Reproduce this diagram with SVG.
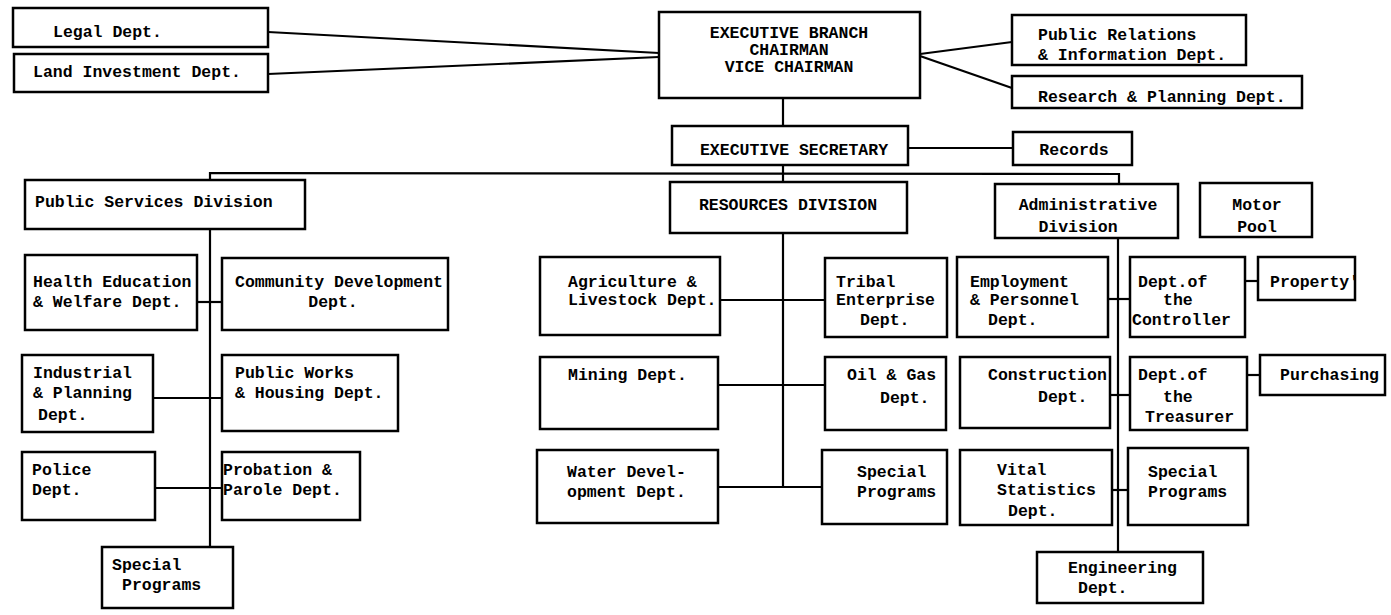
<svg xmlns="http://www.w3.org/2000/svg" width="1391" height="615" viewBox="0 0 1391 615">
<style>
  .box { fill: #fff; stroke: #000; stroke-width: 2.5; }
  .ln { fill: none; stroke: #000; stroke-width: 2.2; }
  text { font-family: "Liberation Mono", "DejaVu Sans Mono", monospace; font-size: 16.5px; font-weight: bold; fill: #000; }
  .m { text-anchor: middle; }
</style>
<rect width="1391" height="615" fill="#fff"/>
<g id="connectors">
  <line class="ln" x1="268" y1="32" x2="659" y2="53"/>
  <line class="ln" x1="268" y1="74" x2="659" y2="57"/>
  <line class="ln" x1="920" y1="54" x2="1012" y2="42"/>
  <line class="ln" x1="920" y1="56" x2="1012" y2="88"/>
  <line class="ln" x1="783" y1="98" x2="783" y2="126"/>
  <line class="ln" x1="908" y1="148" x2="1013" y2="148"/>
  <line class="ln" x1="783" y1="165" x2="783" y2="182"/>
  <polyline class="ln" points="210,180 210,173 1119,174 1119,184"/>
  <line class="ln" x1="210" y1="229" x2="210" y2="547"/>
  <line class="ln" x1="197" y1="302" x2="222" y2="302"/>
  <line class="ln" x1="153" y1="398" x2="222" y2="398"/>
  <line class="ln" x1="155" y1="488" x2="222" y2="488"/>
  <line class="ln" x1="783" y1="233" x2="783" y2="487"/>
  <line class="ln" x1="720" y1="300" x2="825" y2="300"/>
  <line class="ln" x1="718" y1="385" x2="825" y2="385"/>
  <line class="ln" x1="718" y1="487" x2="822" y2="487"/>
  <line class="ln" x1="1118" y1="238" x2="1118" y2="553"/>
  <line class="ln" x1="1108" y1="299" x2="1130" y2="299"/>
  <line class="ln" x1="1245" y1="281" x2="1258" y2="281"/>
  <line class="ln" x1="1110" y1="395" x2="1130" y2="395"/>
  <line class="ln" x1="1247" y1="375" x2="1260" y2="375"/>
  <line class="ln" x1="1112" y1="490" x2="1128" y2="490"/>
</g>
<g id="legal"><rect class="box" x="13" y="8" width="255" height="39"/><text x="53" y="37">Legal Dept.</text></g>
<g id="land"><rect class="box" x="14" y="54" width="254" height="38"/><text x="33" y="77">Land Investment Dept.</text></g>
<g id="exec"><rect class="box" x="659" y="12" width="261" height="86"/>
  <text class="m" x="789" y="38">EXECUTIVE BRANCH</text>
  <text class="m" x="789" y="55">CHAIRMAN</text>
  <text class="m" x="789" y="72">VICE CHAIRMAN</text></g>
<g id="pr"><rect class="box" x="1012" y="15" width="234" height="50"/>
  <text x="1038" y="40">Public Relations</text>
  <text x="1038" y="60">&amp; Information Dept.</text></g>
<g id="research"><rect class="box" x="1012" y="76" width="290" height="32"/>
  <text x="1038" y="102">Research &amp; Planning Dept.</text></g>
<g id="secretary"><rect class="box" x="672" y="126" width="236" height="39"/>
  <text class="m" x="794" y="155">EXECUTIVE SECRETARY</text></g>
<g id="records"><rect class="box" x="1013" y="132" width="119" height="33"/>
  <text class="m" x="1074" y="155">Records</text></g>
<g id="psd"><rect class="box" x="25" y="180" width="280" height="49"/>
  <text x="35" y="207">Public Services Division</text></g>
<g id="resdiv"><rect class="box" x="670" y="182" width="237" height="51"/>
  <text class="m" x="788" y="210">RESOURCES DIVISION</text></g>
<g id="admdiv"><rect class="box" x="995" y="184" width="183" height="54"/>
  <text class="m" x="1088" y="210">Administrative</text>
  <text class="m" x="1078" y="232">Division</text></g>
<g id="motor"><rect class="box" x="1200" y="183" width="112" height="54"/>
  <text class="m" x="1257" y="210">Motor</text>
  <text class="m" x="1257" y="232">Pool</text></g>
<g id="health"><rect class="box" x="25" y="255" width="172" height="75"/>
  <text x="33" y="287">Health Education</text>
  <text x="33" y="307">&amp; Welfare Dept.</text></g>
<g id="community"><rect class="box" x="222" y="258" width="226" height="72"/>
  <text x="235" y="287">Community Development</text>
  <text class="m" x="333" y="307">Dept.</text></g>
<g id="industrial"><rect class="box" x="22" y="355" width="131" height="77"/>
  <text x="33" y="378">Industrial</text>
  <text x="33" y="398">&amp; Planning</text>
  <text x="38" y="420">Dept.</text></g>
<g id="publicworks"><rect class="box" x="222" y="355" width="176" height="76"/>
  <text x="235" y="378">Public Works</text>
  <text x="235" y="398">&amp; Housing Dept.</text></g>
<g id="police"><rect class="box" x="22" y="452" width="133" height="68"/>
  <text x="32" y="475">Police</text>
  <text x="32" y="495">Dept.</text></g>
<g id="probation"><rect class="box" x="222" y="452" width="138" height="68"/>
  <text x="223" y="475">Probation &amp;</text>
  <text x="223" y="495">Parole Dept.</text></g>
<g id="ps-special"><rect class="box" x="102" y="547" width="131" height="61"/>
  <text x="112" y="570">Special</text>
  <text x="122" y="590">Programs</text></g>
<g id="agriculture"><rect class="box" x="540" y="257" width="180" height="78"/>
  <text x="568" y="287">Agriculture &amp;</text>
  <text x="568" y="305">Livestock Dept.</text></g>
<g id="tribal"><rect class="box" x="825" y="258" width="122" height="79"/>
  <text x="836" y="287">Tribal</text>
  <text x="836" y="305">Enterprise</text>
  <text x="860" y="325">Dept.</text></g>
<g id="mining"><rect class="box" x="540" y="357" width="178" height="72"/>
  <text x="568" y="380">Mining Dept.</text></g>
<g id="oilgas"><rect class="box" x="825" y="357" width="121" height="73"/>
  <text x="847" y="380">Oil &amp; Gas</text>
  <text x="880" y="403">Dept.</text></g>
<g id="water"><rect class="box" x="537" y="450" width="181" height="73"/>
  <text x="567" y="477">Water Devel-</text>
  <text x="567" y="497">opment Dept.</text></g>
<g id="res-special"><rect class="box" x="822" y="450" width="125" height="74"/>
  <text x="857" y="477">Special</text>
  <text x="857" y="497">Programs</text></g>
<g id="employment"><rect class="box" x="957" y="257" width="151" height="80"/>
  <text x="970" y="287">Employment</text>
  <text x="970" y="305">&amp; Personnel</text>
  <text x="988" y="325">Dept.</text></g>
<g id="controller"><rect class="box" x="1130" y="257" width="115" height="80"/>
  <text x="1138" y="287">Dept.of</text>
  <text x="1163" y="305">the</text>
  <text x="1132" y="325">Controller</text></g>
<g id="property"><rect class="box" x="1258" y="257" width="97" height="43"/>
  <text x="1270" y="287">Property'</text></g>
<g id="construction"><rect class="box" x="960" y="357" width="150" height="71"/>
  <text x="988" y="380">Construction</text>
  <text x="1038" y="402">Dept.</text></g>
<g id="treasurer"><rect class="box" x="1130" y="357" width="117" height="73"/>
  <text x="1138" y="380">Dept.of</text>
  <text x="1163" y="402">the</text>
  <text x="1145" y="422">Treasurer</text></g>
<g id="purchasing"><rect class="box" x="1260" y="355" width="125" height="40"/>
  <text x="1280" y="380">Purchasing</text></g>
<g id="vital"><rect class="box" x="960" y="450" width="152" height="75"/>
  <text x="997" y="475">Vital</text>
  <text x="997" y="495">Statistics</text>
  <text x="1008" y="516">Dept.</text></g>
<g id="adm-special"><rect class="box" x="1128" y="448" width="120" height="77"/>
  <text x="1148" y="477">Special</text>
  <text x="1148" y="497">Programs</text></g>
<g id="engineering"><rect class="box" x="1037" y="552" width="166" height="51"/>
  <text x="1068" y="573">Engineering</text>
  <text x="1078" y="593">Dept.</text></g>
</svg>
